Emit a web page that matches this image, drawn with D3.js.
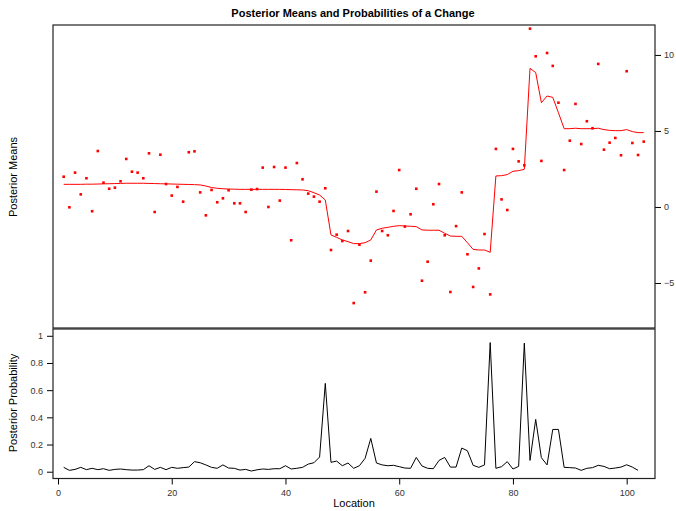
<!DOCTYPE html>
<html>
<head>
<meta charset="utf-8">
<script src="https://cdn.jsdelivr.net/npm/d3@7"></script>
<style>
  body { margin: 0; background: #fff; }
  svg { font-family: "Liberation Sans", Arial, Helvetica, sans-serif; }
</style>
</head>
<body>
<svg id="chart"></svg>
<script>
// observed data (dots)
const observed = [
  1.99, -0.02, 2.26, 0.83, 1.89, -0.28, 3.68, 1.60, 1.20, 1.27,
  1.69, 3.16, 2.32, 2.26, 1.89, 3.53, -0.33, 3.44, 1.51, 0.75,
  1.32, 0.35, 3.60, 3.66, 0.96, -0.55, 1.12, 0.31, 0.57, 1.10,
  0.24, 0.24, -0.33, 1.14, 1.18, 2.59, 0.00, 2.63, 0.42, 2.59,
  -2.19, 2.89, 1.82, 0.88, 0.68, 0.35, 1.23, -2.83, -1.82, -2.24,
  -1.58, -6.32, -2.48, -5.61, -3.53, 1.01, -1.58, -1.86, -0.26, 2.43,
  -1.29, -0.48, 1.20, -4.85, -3.60, 0.18, 1.51, -1.86, -5.59, -1.26,
  0.96, -3.11, -5.26, -4.04, -1.78, -5.75, 3.82, 0.50, -0.20, 3.82,
  3.00, 2.74, 11.73, 9.91, 3.03, 10.13, 9.28, 6.86, 2.43, 4.36,
  6.78, 4.14, 5.64, 5.18, 9.41, 3.77, 4.23, 4.54, 3.40, 8.93,
  4.21, 3.42, 4.30
];

// posterior means (red line)
const postMean = [
  1.49, 1.49, 1.49, 1.49, 1.50, 1.50, 1.51, 1.52, 1.53, 1.54,
  1.55, 1.56, 1.56, 1.56, 1.56, 1.55, 1.54, 1.53, 1.52, 1.51,
  1.50, 1.49, 1.48, 1.47, 1.45, 1.38, 1.28, 1.23, 1.20, 1.18,
  1.17, 1.16, 1.16, 1.16, 1.16, 1.16, 1.16, 1.16, 1.16, 1.15,
  1.14, 1.13, 1.12, 1.07, 0.94, 0.79, 0.46, -1.84, -2.00, -2.17,
  -2.28, -2.41, -2.41, -2.35, -2.17, -1.51, -1.40, -1.34, -1.27, -1.23,
  -1.25, -1.27, -1.29, -1.51, -1.53, -1.53, -1.53, -1.73, -1.91, -1.93,
  -1.93, -2.35, -2.79, -2.83, -2.83, -2.98, 2.04, 2.06, 2.13, 2.35,
  2.39, 2.48, 9.12, 8.84, 6.86, 7.30, 7.21, 6.20, 5.15, 5.15,
  5.18, 5.15, 5.15, 5.15, 5.18, 5.09, 5.04, 5.02, 5.02, 5.09,
  4.96, 4.89, 4.89
];

// posterior probability of a change (black line)
const postProb = [
  0.032, 0.010, 0.017, 0.032, 0.015, 0.025, 0.015, 0.022, 0.010, 0.017,
  0.020, 0.015, 0.012, 0.012, 0.015, 0.044, 0.017, 0.032, 0.015, 0.032,
  0.025, 0.030, 0.034, 0.074, 0.066, 0.050, 0.032, 0.025, 0.050, 0.027,
  0.025, 0.012, 0.017, 0.005, 0.014, 0.020, 0.017, 0.022, 0.022, 0.044,
  0.020, 0.025, 0.032, 0.056, 0.066, 0.108, 0.650, 0.069, 0.078, 0.044,
  0.064, 0.025, 0.044, 0.098, 0.245, 0.064, 0.050, 0.044, 0.047, 0.037,
  0.027, 0.025, 0.105, 0.042, 0.025, 0.022, 0.083, 0.105, 0.034, 0.034,
  0.174, 0.154, 0.047, 0.032, 0.050, 0.950, 0.025, 0.037, 0.074, 0.020,
  0.039, 0.946, 0.083, 0.385, 0.103, 0.050, 0.311, 0.311, 0.032, 0.030,
  0.027, 0.010, 0.025, 0.030, 0.047, 0.039, 0.022, 0.027, 0.034, 0.051,
  0.034, 0.010
];

const xTicks = [0, 20, 40, 60, 80, 100];
const meanTicks = [-5, 0, 5, 10];
const probTicks = [0, 0.2, 0.4, 0.6, 0.8, 1];

const width = 676, height = 511;
const left = 53, right = 655;
const top1 = 25, bottom1 = 328;
const top2 = 329, bottom2 = 478.5;

const svg = d3.select("#chart")
    .attr("width", width)
    .attr("height", height);

// scales
const x = d3.scaleLinear().domain([-0.88, 104.98]).range([left, right]);
const y1 = d3.scaleLinear().domain([-7.96, 11.97]).range([bottom1, top1]);
const y2 = d3.scaleLinear().domain([-0.05, 1.05]).range([bottom2, top2]);

// title
svg.append("text")
    .attr("x", 353)
    .attr("y", 17)
    .attr("text-anchor", "middle")
    .style("font-size", "11px")
    .style("font-weight", "bold")
    .text("Posterior Means and Probabilities of a Change");

// top panel: means
const meanLine = d3.line()
    .x((d, i) => x(i + 1))
    .y(d => y1(d));

svg.append("path")
    .datum(postMean)
    .attr("d", meanLine)
    .attr("fill", "none")
    .attr("stroke", "#ff0000")
    .attr("stroke-width", 1);

svg.selectAll("rect.pt").data(observed)
    .enter().append("rect")
    .attr("class", "pt")
    .attr("x", (d, i) => x(i + 1) - 1.3)
    .attr("y", d => y1(d) - 1.3)
    .attr("width", 2.6)
    .attr("height", 2.6)
    .attr("fill", "#ff0000");

const rightAxis = d3.axisRight(y1).tickValues(meanTicks).tickSize(6).tickPadding(3)
    .tickFormat(d => d < 0 ? "\u2212" + Math.abs(d) : d);
svg.append("g")
    .attr("transform", `translate(${right}, 0)`)
    .call(rightAxis)
    .call(g => g.select(".domain").remove())
    .selectAll("text")
    .style("font-size", "9px")
    .style("fill", "#333");

svg.append("text")
    .attr("x", -177)
    .attr("y", 17)
    .attr("transform", "rotate(-90)")
    .attr("text-anchor", "middle")
    .style("font-size", "11px")
    .text("Posterior Means");

svg.append("rect")
    .attr("x", left).attr("y", top1)
    .attr("width", right - left).attr("height", bottom1 - top1)
    .attr("fill", "none").attr("stroke", "#222").attr("stroke-width", 1.2);

// bottom panel: probabilities
const probLine = d3.line()
    .x((d, i) => x(i + 1))
    .y(d => y2(d));

svg.append("path")
    .datum(postProb)
    .attr("d", probLine)
    .attr("fill", "none")
    .attr("stroke", "#000")
    .attr("stroke-width", 1);

const leftAxis = d3.axisLeft(y2).tickValues(probTicks).tickSize(6).tickPadding(4)
    .tickFormat(d3.format("~g"));
svg.append("g")
    .attr("transform", `translate(${left}, 0)`)
    .call(leftAxis)
    .call(g => g.select(".domain").remove())
    .selectAll("text")
    .style("font-size", "9px")
    .style("fill", "#333");

const bottomAxis = d3.axisBottom(x).tickValues(xTicks).tickSize(6).tickPadding(5);
svg.append("g")
    .attr("transform", `translate(0, ${bottom2})`)
    .call(bottomAxis)
    .call(g => g.select(".domain").remove())
    .selectAll("text")
    .style("font-size", "9px")
    .style("fill", "#333");

svg.append("text")
    .attr("x", -403)
    .attr("y", 17)
    .attr("transform", "rotate(-90)")
    .attr("text-anchor", "middle")
    .style("font-size", "11px")
    .text("Posterior Probability");

svg.append("text")
    .attr("x", 354)
    .attr("y", 507)
    .attr("text-anchor", "middle")
    .style("font-size", "11px")
    .text("Location");

svg.append("rect")
    .attr("x", left).attr("y", top2)
    .attr("width", right - left).attr("height", bottom2 - top2)
    .attr("fill", "none").attr("stroke", "#222").attr("stroke-width", 1.2);
</script>
</body>
</html>
